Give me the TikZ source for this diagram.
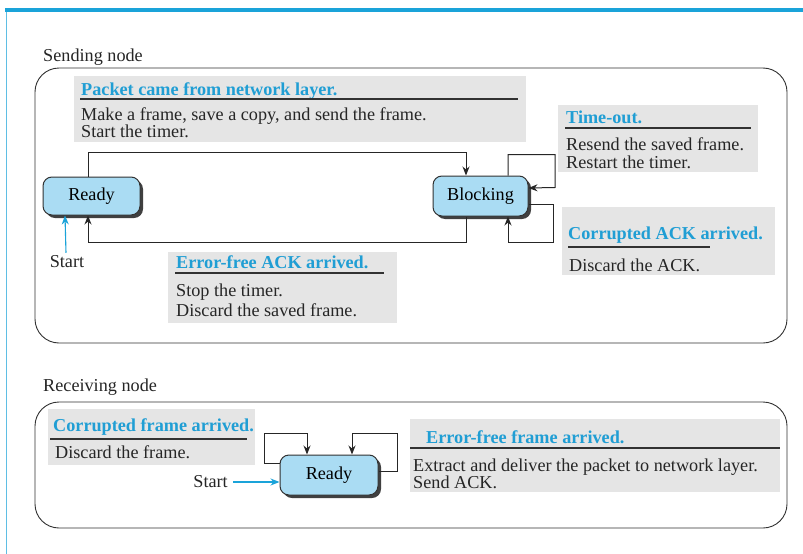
\documentclass[tikz,border=0pt]{standalone}
\usepackage{fontspec}
\setmainfont{Liberation Serif}
\usetikzlibrary{arrows.meta,shadows}

\definecolor{barblue}{RGB}{26,163,217}
\definecolor{ttlblue}{RGB}{32,158,212}
\definecolor{notegray}{RGB}{229,229,229}
\definecolor{statefill}{RGB}{170,220,243}
\definecolor{linegray}{RGB}{50,50,50}

\newcommand\bodyfont{\fontsize{18.2}{20}\selectfont}
\newcommand\ttlfont{\fontsize{18.2}{20}\selectfont\bfseries}

\tikzset{
  note/.style={fill=notegray, draw=none, inner sep=0pt, anchor=north west},
  ttl/.style={font=\ttlfont, text=ttlblue, inner sep=0pt, anchor=base west},
  body/.style={font=\bodyfont, text=black!85, inner sep=0pt, anchor=base west},
  rulebar/.style={line width=1.1pt, draw=linegray},
  frame/.style={draw=linegray, line width=0.9pt, rounded corners=24pt},
  state/.style={draw=linegray, line width=1pt, fill=statefill, rounded corners=9pt,
    inner sep=0pt, font=\bodyfont,
    drop shadow={shadow xshift=3pt, shadow yshift=-3pt, fill=black!75, opacity=1}},
  conn/.style={draw=black!85, line width=1pt, -{Stealth[length=9pt,width=7pt]}},
  startarr/.style={draw=barblue, line width=1.1pt, -{Stealth[length=9pt,width=7pt]}}
}

\begin{document}
\begin{tikzpicture}[x=1pt, y=-1pt]
\useasboundingbox (0,0) rectangle (803,554);
\fill[white] (0,0) rectangle (803,554);

% page rules
\fill[barblue] (5,8) rectangle (803,12);
\draw[barblue!70, line width=0.8pt] (6,12) -- (6,554);

% ---------- sending side ----------
\node[body] (sendlbl) at (43,61) {Sending node};
\draw[frame] (35,68) rectangle (787,343);

% note: packet from network layer
\node[note, minimum width=452pt, minimum height=66pt] (pkt) at (74,76) {};
\node[ttl] (pktT) at (81,95) {Packet came from network layer.};
\draw[rulebar] (80,99) -- (518,99);
\node[body] (pktA) at (81,120) {Make a frame, save a copy, and send the frame.};
\node[body] (pktB) at (81,137) {Start the timer.};

% note: time-out
\node[note, minimum width=200pt, minimum height=67pt] (tmo) at (558,105) {};
\node[ttl] (tmoT) at (566,123) {Time-out.};
\draw[rulebar] (565,128) -- (751,128);
\node[body] (tmoA) at (566,150) {Resend the saved frame.};
\node[body] (tmoB) at (566,168) {Restart the timer.};

% note: corrupted ACK
\node[note, minimum width=213pt, minimum height=68pt] (cak) at (562,207) {};
\node[ttl] (cakT) at (568,239) {Corrupted ACK arrived.};
\draw[rulebar] (568,247) -- (710,247);
\node[body] (cakA) at (569,271) {Discard the ACK.};

% note: error-free ACK
\node[note, minimum width=229pt, minimum height=71pt] (eak) at (168,252) {};
\node[ttl] (eakT) at (176,268) {Error-free ACK arrived.};
\draw[rulebar] (175,273) -- (384,273);
\node[body] (eakA) at (176,296) {Stop the timer.};
\node[body] (eakB) at (176,316) {Discard the saved frame.};

% states
\node[state, minimum width=97pt, minimum height=38pt] (rdy) at (91.5,196) {Ready};
\node[state, minimum width=95pt, minimum height=40pt] (blk) at (480.5,196) {Blocking};

% transitions
\draw[conn] ([xshift=-3.5pt]rdy.north) -- ++(0,-24) -| ([xshift=-14.5pt]blk.north);
\draw[conn] ([xshift=-14.5pt]blk.south) -- ++(0,26) -| ([xshift=-3.5pt]rdy.south);
\draw[conn] ([xshift=27.5pt]blk.north) -- ++(0,-21) -- ++(47,0) -- ++(0,33)
  -- ([yshift=8pt]blk.east);
\draw[conn] ([yshift=-8pt]blk.east) -- ++(25,0) -- ++(0,38) -| ([xshift=27.5pt]blk.south);

% start marker
\node[body, anchor=base] (st1) at (67,267) {Start};
\draw[startarr] ([xshift=-1pt,yshift=2pt]st1.north) -- ([xshift=-26.5pt]rdy.south);

% ---------- receiving side ----------
\node[body] (recvlbl) at (43,391) {Receiving node};
\draw[frame] (35,402) rectangle (787,528);

% note: corrupted frame
\node[note, minimum width=207pt, minimum height=56pt] (cfr) at (48,409) {};
\node[ttl] (cfrT) at (53,431) {Corrupted frame arrived.};
\draw[rulebar] (50,439) -- (247,439);
\node[body] (cfrA) at (55,458) {Discard the frame.};

% note: error-free frame
\node[note, minimum width=370pt, minimum height=73pt] (efr) at (410,419) {};
\node[ttl] (efrT) at (426,443) {Error-free frame arrived.};
\draw[rulebar] (410,448) -- (780,448);
\node[body] (efrA) at (413,471) {Extract and deliver the packet to network layer.};
\node[body] (efrB) at (413,488) {Send ACK.};

% state
\node[state, minimum width=98pt, minimum height=40pt] (rdy2) at (329,475) {Ready};

% self loops
\draw[conn] ([yshift=12pt]rdy2.west) -- ++(-15,0) -- ++(0,-30) -| ([xshift=-22pt]rdy2.north);
\draw[conn] ([yshift=4pt]rdy2.east) -- ++(19,0) -- ++(0,-38) -| ([xshift=23pt]rdy2.north);

% start marker
\node[body, anchor=base east] (st2) at (228,487) {Start};
\coordinate (st2tip) at ([yshift=-7pt]rdy2.west);
\coordinate (st2tail) at (st2tip -| st2.east);
\draw[startarr] ([xshift=5pt]st2tail) -- (st2tip);
\end{tikzpicture}
\end{document}
